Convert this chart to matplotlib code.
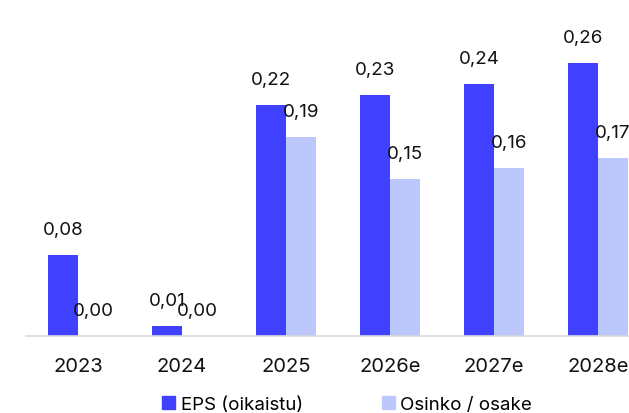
import numpy as np
import matplotlib.pyplot as plt
from matplotlib.patches import Patch

plt.rcParams['font.family'] = ['Inter', 'DejaVu Sans']

# data
years = ["2023", "2024", "2025", "2026e", "2027e", "2028e"]
eps = [0.077, 0.01, 0.22, 0.23, 0.24, 0.26]
osinko = [0.0, 0.0, 0.19, 0.15, 0.16, 0.17]

c_eps = "#4040FF"
c_div = "#BCC8FC"

W, H = 629, 414
fig = plt.figure(figsize=(W / 100, H / 100), dpi=100)
ax = fig.add_axes([26 / W, 77 / H, 624 / W, 337 / H])

x = np.arange(len(years))
bw = 30 / 104
ax.bar(x - bw / 2, eps, bw, color=c_eps)
ax.bar(x + bw / 2, osinko, bw, color=c_div)

def fmt(v):
    return f"{v:.2f}".replace(".", ",")

for xi, v in zip(x, eps):
    ax.annotate(fmt(v), (xi - bw / 2, v), xytext=(0, 12), textcoords="offset points",
                ha="center", va="bottom", fontsize=13.5, color="#111111", annotation_clip=False)
for xi, v in zip(x, osinko):
    ax.annotate(fmt(v), (xi + bw / 2, v), xytext=(0, 12), textcoords="offset points",
                ha="center", va="bottom", fontsize=13.5, color="#111111", annotation_clip=False)

ax.set_xlim(-0.5, 5.5)
ax.set_ylim(0, 0.321)
ax.set_xticks(x)
ax.set_xticklabels(years, fontsize=14.5, color="#111111")
ax.tick_params(axis="x", length=0, pad=15)
ax.set_yticks([])
for s in ["top", "right", "left"]:
    ax.spines[s].set_visible(False)
ax.spines["bottom"].set_color("#d9d9d9")
ax.spines["bottom"].set_linewidth(1.2)

handles = [Patch(color=c_eps, label="EPS (oikaistu)"),
           Patch(color=c_div, label="Osinko / osake")]
fig.legend(handles=handles, loc="center", bbox_to_anchor=(0.552, 0.02), ncol=2,
           frameon=False, fontsize=13.5, handlelength=0.7, handleheight=0.7,
           handletextpad=0.3, columnspacing=4.2, borderpad=0)

fig.savefig("out.png", dpi=100)
